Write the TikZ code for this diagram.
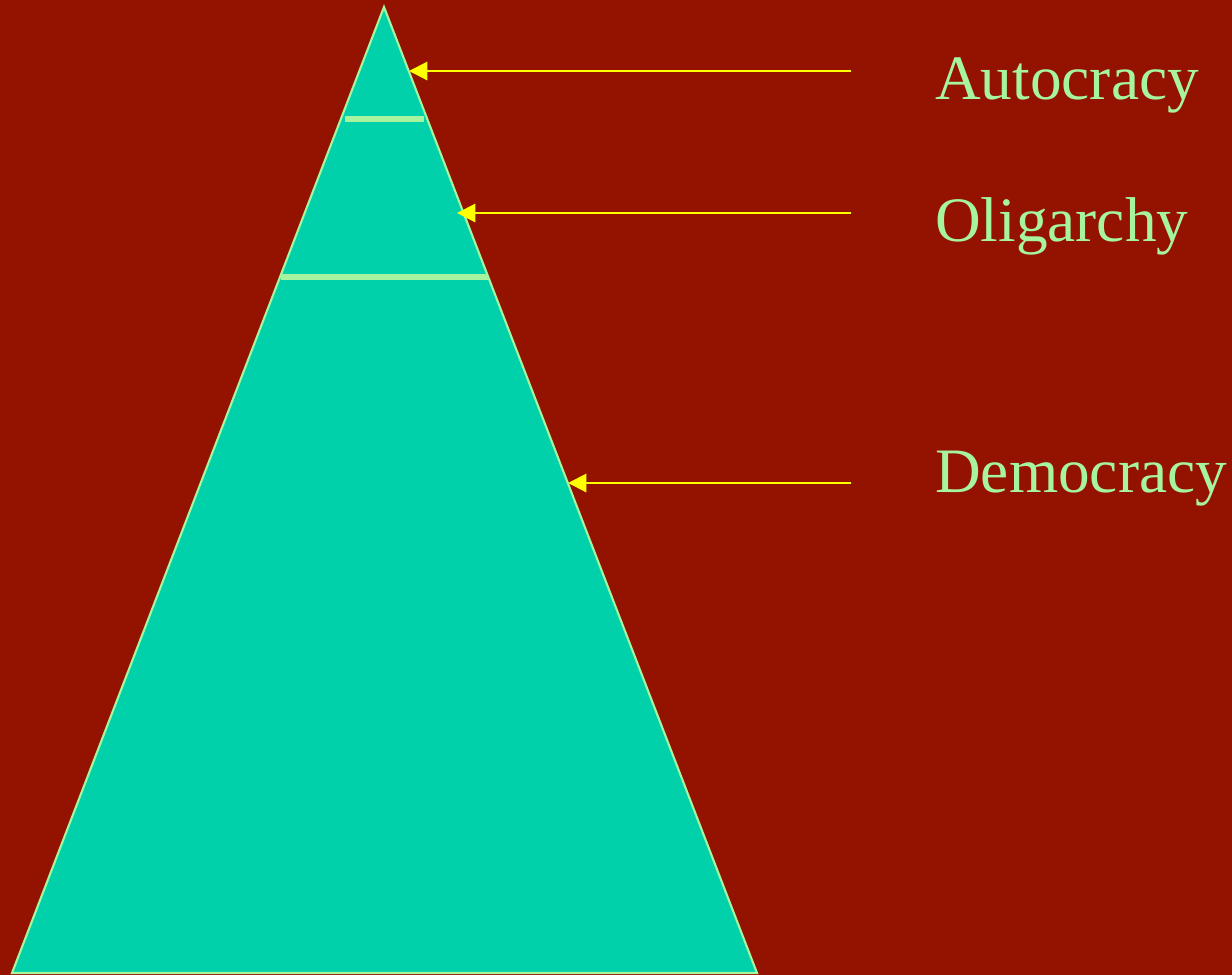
\documentclass[tikz,border=0pt]{standalone}
\usepackage{fontspec}
\setmainfont{Liberation Serif}
\usepackage{tikz}
\usetikzlibrary{calc,arrows.meta}

\definecolor{bgred}{HTML}{931300}
\definecolor{pyrteal}{HTML}{00D1AA}
\definecolor{paleGreen}{HTML}{A6F59E}
\definecolor{arrowYellow}{HTML}{FFFF00}

\begin{document}
\begin{tikzpicture}[
    x=0.025cm, y=-0.025cm,
    >={Triangle[length=13pt,width=13pt]},
    level/.style={font=\fontsize{45}{54}\selectfont, text=paleGreen, anchor=base west, inner sep=0pt},
    pointer/.style={->, draw=arrowYellow, fill=arrowYellow, line width=1.5pt},
    divider/.style={draw=paleGreen, line width=4.2pt}
  ]
  % background
  \fill[bgred] (0,0) rectangle (1232,975);
  \useasboundingbox (0,0) rectangle (1232,975);

  % pyramid
  \coordinate (apex) at (384,7);
  \coordinate (bl) at (12,973);
  \coordinate (br) at (757,973);
  \filldraw[fill=pyrteal, draw=paleGreen, line width=1.5pt] (apex) -- (br) -- (bl) -- cycle;

  % layer borders
  \draw[divider] (345,119) -- (424,119);
  \draw[divider] (281,277) -- (488,277);

  % labels
  \node[level] (auto) at (935,99) {Autocracy};
  \node[level] (olig) at (935,241) {Oligarchy};
  \node[level] (demo) at (935,492) {Democracy};

  % arrows
  \coordinate (a1) at (851,71);
  \coordinate (a2) at (851,213);
  \coordinate (a3) at (851,483);
  \coordinate (e1) at (409,71);
  \coordinate (e2) at (457,213);
  \coordinate (e3) at (568,483);
  \draw[pointer] (a1) -- (e1);
  \draw[pointer] (a2) -- (e2);
  \draw[pointer] (a3) -- (e3);
\end{tikzpicture}
\end{document}
